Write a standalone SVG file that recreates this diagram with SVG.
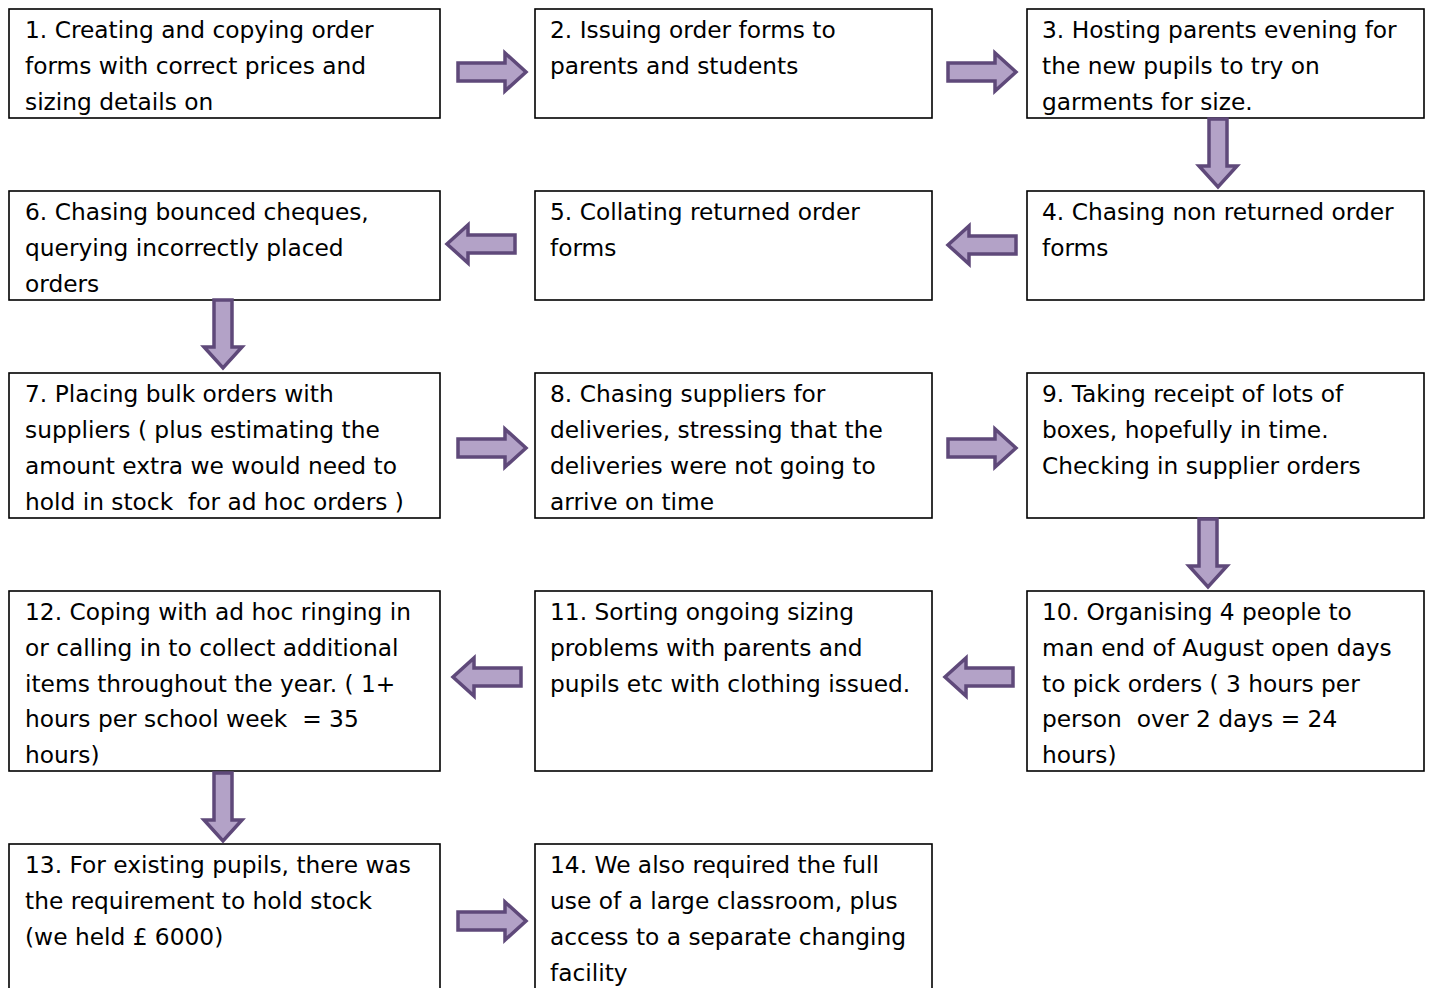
<svg xmlns="http://www.w3.org/2000/svg" width="1430" height="988" viewBox="0 0 1430 988">
<style>
.box{fill:#fff;stroke:#000;stroke-width:1.6}
.t{font-family:"DejaVu Sans",Verdana,sans-serif;font-size:23.3px;fill:#000;white-space:pre}
.arr{fill:#B3A2C7;stroke:#5F497A;stroke-width:3.5;stroke-linejoin:miter}
</style>
<defs>
<path id="ra" class="arr" d="M0,-9 H47 V-19 L68,0 L47,19 V9 H0 Z"/>
</defs>
<rect width="1430" height="988" fill="#fff"/>
<g id="n1"><rect class="box" x="9" y="9" width="431" height="109"/><text class="t" x="25" y="38"><tspan x="25">1. Creating and copying order</tspan><tspan x="25" dy="36">forms with correct prices and</tspan><tspan x="25" dy="36">sizing details on</tspan></text></g>
<g id="n2"><rect class="box" x="535" y="9" width="397" height="109"/><text class="t" x="550" y="38"><tspan x="550">2. Issuing order forms to</tspan><tspan x="550" dy="36">parents and students</tspan></text></g>
<g id="n3"><rect class="box" x="1027" y="9" width="397" height="109"/><text class="t" x="1042" y="38"><tspan x="1042">3. Hosting parents evening for</tspan><tspan x="1042" dy="36">the new pupils to try on</tspan><tspan x="1042" dy="36">garments for size.</tspan></text></g>
<g id="n4"><rect class="box" x="1027" y="191" width="397" height="109"/><text class="t" x="1042" y="220"><tspan x="1042">4. Chasing non returned order</tspan><tspan x="1042" dy="36">forms</tspan></text></g>
<g id="n5"><rect class="box" x="535" y="191" width="397" height="109"/><text class="t" x="550" y="220"><tspan x="550">5. Collating returned order</tspan><tspan x="550" dy="36">forms</tspan></text></g>
<g id="n6"><rect class="box" x="9" y="191" width="431" height="109"/><text class="t" x="25" y="220"><tspan x="25">6. Chasing bounced cheques,</tspan><tspan x="25" dy="36">querying incorrectly placed</tspan><tspan x="25" dy="36">orders</tspan></text></g>
<g id="n7"><rect class="box" x="9" y="373" width="431" height="145"/><text class="t" x="25" y="402"><tspan x="25">7. Placing bulk orders with</tspan><tspan x="25" dy="36">suppliers ( plus estimating the</tspan><tspan x="25" dy="36">amount extra we would need to</tspan><tspan x="25" dy="36">hold in stock  for ad hoc orders )</tspan></text></g>
<g id="n8"><rect class="box" x="535" y="373" width="397" height="145"/><text class="t" x="550" y="402"><tspan x="550">8. Chasing suppliers for</tspan><tspan x="550" dy="36">deliveries, stressing that the</tspan><tspan x="550" dy="36">deliveries were not going to</tspan><tspan x="550" dy="36">arrive on time</tspan></text></g>
<g id="n9"><rect class="box" x="1027" y="373" width="397" height="145"/><text class="t" x="1042" y="402"><tspan x="1042">9. Taking receipt of lots of</tspan><tspan x="1042" dy="36">boxes, hopefully in time.</tspan><tspan x="1042" dy="36">Checking in supplier orders</tspan></text></g>
<g id="n10"><rect class="box" x="1027" y="591" width="397" height="180"/><text class="t" x="1042" y="620"><tspan x="1042">10. Organising 4 people to</tspan><tspan x="1042" dy="35.8">man end of August open days</tspan><tspan x="1042" dy="35.8">to pick orders ( 3 hours per</tspan><tspan x="1042" dy="35.8">person  over 2 days = 24</tspan><tspan x="1042" dy="35.8">hours)</tspan></text></g>
<g id="n11"><rect class="box" x="535" y="591" width="397" height="180"/><text class="t" x="550" y="620"><tspan x="550">11. Sorting ongoing sizing</tspan><tspan x="550" dy="35.8">problems with parents and</tspan><tspan x="550" dy="35.8">pupils etc with clothing issued.</tspan></text></g>
<g id="n12"><rect class="box" x="9" y="591" width="431" height="180"/><text class="t" x="25" y="620"><tspan x="25">12. Coping with ad hoc ringing in</tspan><tspan x="25" dy="35.8">or calling in to collect additional</tspan><tspan x="25" dy="35.8">items throughout the year. ( 1+</tspan><tspan x="25" dy="35.8">hours per school week  = 35</tspan><tspan x="25" dy="35.8">hours)</tspan></text></g>
<g id="n13"><rect class="box" x="9" y="844" width="431" height="160"/><text class="t" x="25" y="873"><tspan x="25">13. For existing pupils, there was</tspan><tspan x="25" dy="36">the requirement to hold stock</tspan><tspan x="25" dy="36">(we held £ 6000)</tspan></text></g>
<g id="n14"><rect class="box" x="535" y="844" width="397" height="160"/><text class="t" x="550" y="873"><tspan x="550">14. We also required the full</tspan><tspan x="550" dy="36">use of a large classroom, plus</tspan><tspan x="550" dy="36">access to a separate changing</tspan><tspan x="550" dy="36">facility</tspan></text></g>
<g id="connectors">
<use href="#ra" transform="translate(458,72)"/>
<use href="#ra" transform="translate(948,72)"/>
<use href="#ra" transform="translate(1218,119) rotate(90)"/>
<use href="#ra" transform="translate(1016,245) rotate(180)"/>
<use href="#ra" transform="translate(515,244) rotate(180)"/>
<use href="#ra" transform="translate(223,300) rotate(90)"/>
<use href="#ra" transform="translate(458,448)"/>
<use href="#ra" transform="translate(948,448)"/>
<use href="#ra" transform="translate(1208,519) rotate(90)"/>
<use href="#ra" transform="translate(1013,677) rotate(180)"/>
<use href="#ra" transform="translate(521,677) rotate(180)"/>
<use href="#ra" transform="translate(223,773) rotate(90)"/>
<use href="#ra" transform="translate(458,921)"/>
</g>
</svg>
